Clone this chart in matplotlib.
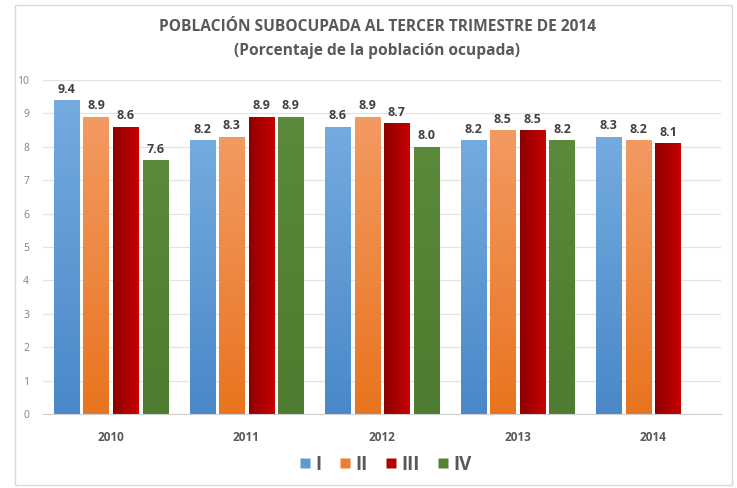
import matplotlib
matplotlib.use("Agg")
import matplotlib.pyplot as plt
import numpy as np
from matplotlib.lines import Line2D
from matplotlib.patches import Rectangle
from matplotlib.colors import LinearSegmentedColormap

years = ["2010", "2011", "2012", "2013", "2014"]
series_names = ["I", "II", "III", "IV"]
vals_I = [9.4, 8.2, 8.6, 8.2, 8.3]
vals_II = [8.9, 8.3, 8.9, 8.5, 8.2]
vals_III = [8.6, 8.9, 8.7, 8.5, 8.1]
vals_IV = [7.6, 8.9, 8.0, 8.2, None]
all_vals = [vals_I, vals_II, vals_III, vals_IV]
colors = ["#5B9BD5", "#ED7D31", "#B50000", "#548235"]
# gradient endpoints (start, end), direction: v = top->bottom, h = left->right
grads = [("#74ABDF", "#4A88C9", "v"), ("#F39A62", "#E9741F", "v"),
         ("#8E0000", "#C80000", "h"), ("#5A8A3A", "#4E7C30", "v")]

fam = "Open Sans"
plt.rcParams["font.family"] = [fam, "DejaVu Sans"]

fig = plt.figure(figsize=(7.37, 4.88), dpi=100)
fig.patch.set_facecolor("white")
fig.add_artist(Rectangle((15 / 737, 3 / 488), 717 / 737, 480 / 488, transform=fig.transFigure,
                         fill=False, edgecolor="#D9D9D9", linewidth=1.0))

ax = fig.add_axes([43 / 737, 1 - 414 / 488, (721 - 43) / 737, (414 - 80) / 488])
x = np.arange(len(years))
step = 0.218
width = 0.185
gray = "#595959"

for i, vals in enumerate(all_vals):
    off = (i - 1.5) * step
    c1, c2, d = grads[i]
    cmap = LinearSegmentedColormap.from_list("g", [c1, c2])
    for j, v in enumerate(vals):
        if v is None:
            continue
        b = ax.bar(x[j] + off, v, width=width, color=colors[i], zorder=2, edgecolor="none")[0]
        left = x[j] + off - width / 2
        if d == "v":
            arr = np.linspace(1, 0, 100).reshape(-1, 1)
        else:
            arr = np.linspace(0, 1, 100).reshape(1, -1)
        im = ax.imshow(arr, cmap=cmap, vmin=0, vmax=1, extent=[left, left + width, 0, v],
                       aspect="auto", zorder=2.5, origin="lower", interpolation="bilinear")
        im.set_clip_path(b)
        ax.text(x[j] + off, v + 0.13, f"{v:.1f}", ha="center", va="bottom",
                fontsize=9, fontweight="bold", color="#404040", zorder=3)

ax.set_xlim(-0.5, len(years) - 0.5)
ax.set_ylim(0, 10)
ax.set_yticks(range(0, 11))
ax.set_xticks(x)
ax.set_xticklabels(years, fontsize=8.5, fontweight="bold", color=gray)
ax.tick_params(axis="x", length=0, pad=12)
ax.tick_params(axis="y", length=0, pad=10, labelsize=7.5, labelcolor="#808080")
ax.grid(axis="y", color="#E3E3E3", linewidth=0.9, zorder=0)
ax.set_axisbelow(True)
for s in ["top", "right", "left"]:
    ax.spines[s].set_visible(False)
ax.spines["bottom"].set_color("#D0D0D0")
ax.set_facecolor("none")

fig.text(0.512, 1 - 27 / 488, "POBLACIÓN SUBOCUPADA AL TERCER TRIMESTRE DE 2014",
         ha="center", va="center", fontsize=11.2, fontweight="bold", color=gray)
fig.text(0.512, 1 - 51 / 488, "(Porcentaje de la población ocupada)",
         ha="center", va="center", fontsize=11.2, fontweight="bold", color=gray)

handles = [Line2D([], [], marker="s", linestyle="none", markersize=7.5,
                  markerfacecolor=c, markeredgecolor="none") for c in colors]
leg = fig.legend(handles, series_names, loc="center", bbox_to_anchor=(0.52, 1 - 465 / 488),
                 ncol=4, frameon=False, handletextpad=0.0, columnspacing=0.7, handlelength=1.1,
                 prop={"family": [fam, "DejaVu Sans"], "size": 13.5, "weight": "bold"})
for t in leg.get_texts():
    t.set_color(gray)

fig.savefig("out.png", dpi=100, facecolor="white")
